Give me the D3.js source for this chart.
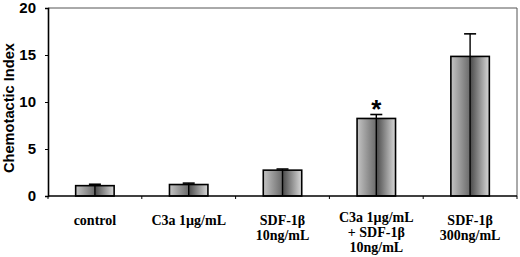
<!DOCTYPE html>
<html><head><meta charset="utf-8">
<script src="https://cdn.jsdelivr.net/npm/d3@7"></script>
<style>body{margin:0;background:#fff;}svg{display:block;}</style>
</head><body>
<script>
const categories = [["control"],["C3a 1\u00b5g/mL"],["SDF-1\u03b2","10ng/mL"],["C3a 1\u00b5g/mL","+ SDF-1\u03b2","10ng/mL"],["SDF-1\u03b2","300ng/mL"]];
const means = [1.1, 1.22, 2.75, 8.25, 14.85];
const errors = [0.15, 0.15, 0.12, 0.42, 2.4];
const significant = [false, false, false, true, false];
const yTicks = [0, 5, 10, 15, 20];

const data = means.map((v, i) => ({i, v, e: errors[i], sig: significant[i], label: categories[i]}));

const W = 520, H = 257;
const m = {left: 48, right: 3, top: 8, bottom: 61};
const svg = d3.select("body").append("svg").attr("width", W).attr("height", H);
const defs = svg.append("defs");
const g1 = defs.append("linearGradient").attr("id","gl").attr("x1","0").attr("x2","1").attr("y1","0").attr("y2","0");
g1.append("stop").attr("offset","0").attr("stop-color","#c4c4c4");
g1.append("stop").attr("offset","1").attr("stop-color","#6a6a6a");
const g2 = defs.append("linearGradient").attr("id","gr").attr("x1","0").attr("x2","1").attr("y1","0").attr("y2","0");
g2.append("stop").attr("offset","0").attr("stop-color","#4a4a4a");
g2.append("stop").attr("offset","1").attr("stop-color","#d8d8d8");

const x = d3.scaleBand().domain(d3.range(categories.length)).range([m.left, W - m.right]).paddingInner(0).paddingOuter(0);
const y = d3.scaleLinear().domain([0, 20]).range([H - m.bottom, m.top]);
const cx = d => x(d.i) + x.bandwidth()/2;

// frame
svg.append("line").attr("x1", m.left).attr("x2", W - m.right).attr("y1", y(20)).attr("y2", y(20)).attr("stroke","#555").attr("stroke-width",1);
svg.append("line").attr("x1", W - m.right).attr("x2", W - m.right).attr("y1", y(20)).attr("y2", y(0)).attr("stroke","#555").attr("stroke-width",1);

const bw = x.bandwidth() * 0.41;
const bars = svg.append("g").selectAll("g").data(data).join("g");
bars.append("rect").attr("x", d => cx(d) - bw/2).attr("y", d => y(d.v))
  .attr("width", bw/2).attr("height", d => y(0) - y(d.v)).attr("fill","url(#gl)");
bars.append("rect").attr("x", d => cx(d)).attr("y", d => y(d.v))
  .attr("width", bw/2).attr("height", d => y(0) - y(d.v)).attr("fill","url(#gr)");
bars.append("rect").attr("x", d => cx(d) - bw/2).attr("y", d => y(d.v))
  .attr("width", bw).attr("height", d => y(0) - y(d.v)).attr("fill","none").attr("stroke","#000").attr("stroke-width",1.6);
bars.append("line").attr("x1", cx).attr("x2", cx)
  .attr("y1", y(0)).attr("y2", d => y(d.v + d.e)).attr("stroke","#000").attr("stroke-width",1.4);
bars.append("line").attr("x1", d => cx(d) - 6).attr("x2", d => cx(d) + 6)
  .attr("y1", d => y(d.v + d.e)).attr("y2", d => y(d.v + d.e)).attr("stroke","#000").attr("stroke-width",1.6);
bars.filter(d => d.sig).append("text")
  .attr("x", cx).attr("y", d => y(d.v + d.e) + 3)
  .attr("text-anchor","middle").attr("font-family","Arial, Liberation Sans, sans-serif").attr("font-size",26).attr("font-weight","bold").text("*");

// y axis
const ya = svg.append("g").attr("transform",`translate(${m.left},0)`)
  .call(d3.axisLeft(y).tickValues(yTicks).tickSize(3).tickPadding(9));
ya.select(".domain").attr("stroke","#000").attr("stroke-width",1.6);
ya.selectAll("text").attr("font-family","Arial, Liberation Sans, sans-serif").attr("font-size",15).attr("font-weight","bold").attr("fill","#000");

// x axis
const xa = svg.append("g").attr("transform",`translate(0,${y(0)})`);
xa.append("line").attr("x1", m.left).attr("x2", W - m.right).attr("stroke","#000").attr("stroke-width",1.6);
xa.selectAll("line.t").data(d3.range(categories.length + 1)).join("line").attr("class","t")
  .attr("x1", i => m.left + i*x.bandwidth()).attr("x2", i => m.left + i*x.bandwidth()).attr("y1",0).attr("y2",3).attr("stroke","#000");
const xl = xa.selectAll("text").data(data).join("text")
  .attr("text-anchor","middle").attr("font-family","'Liberation Serif','Times New Roman',serif").attr("font-size",14).attr("font-weight","bold");
xl.each(function(d){
  const t = d3.select(this);
  const start = d.label.length > 2 ? 26 : 29;
  d.label.forEach((s, k) => t.append("tspan").attr("x", cx(d)).attr("y", start + k*15).text(s));
});

svg.append("text").attr("transform",`translate(14,${(y(0)+y(20))/2 + 6}) rotate(-90)`)
  .attr("text-anchor","middle").attr("font-family","Arial, Liberation Sans, sans-serif").attr("font-size",14).attr("font-weight","bold")
  .attr("textLength",130).attr("lengthAdjust","spacingAndGlyphs").text("Chemotactic Index");
</script>
</body></html>
